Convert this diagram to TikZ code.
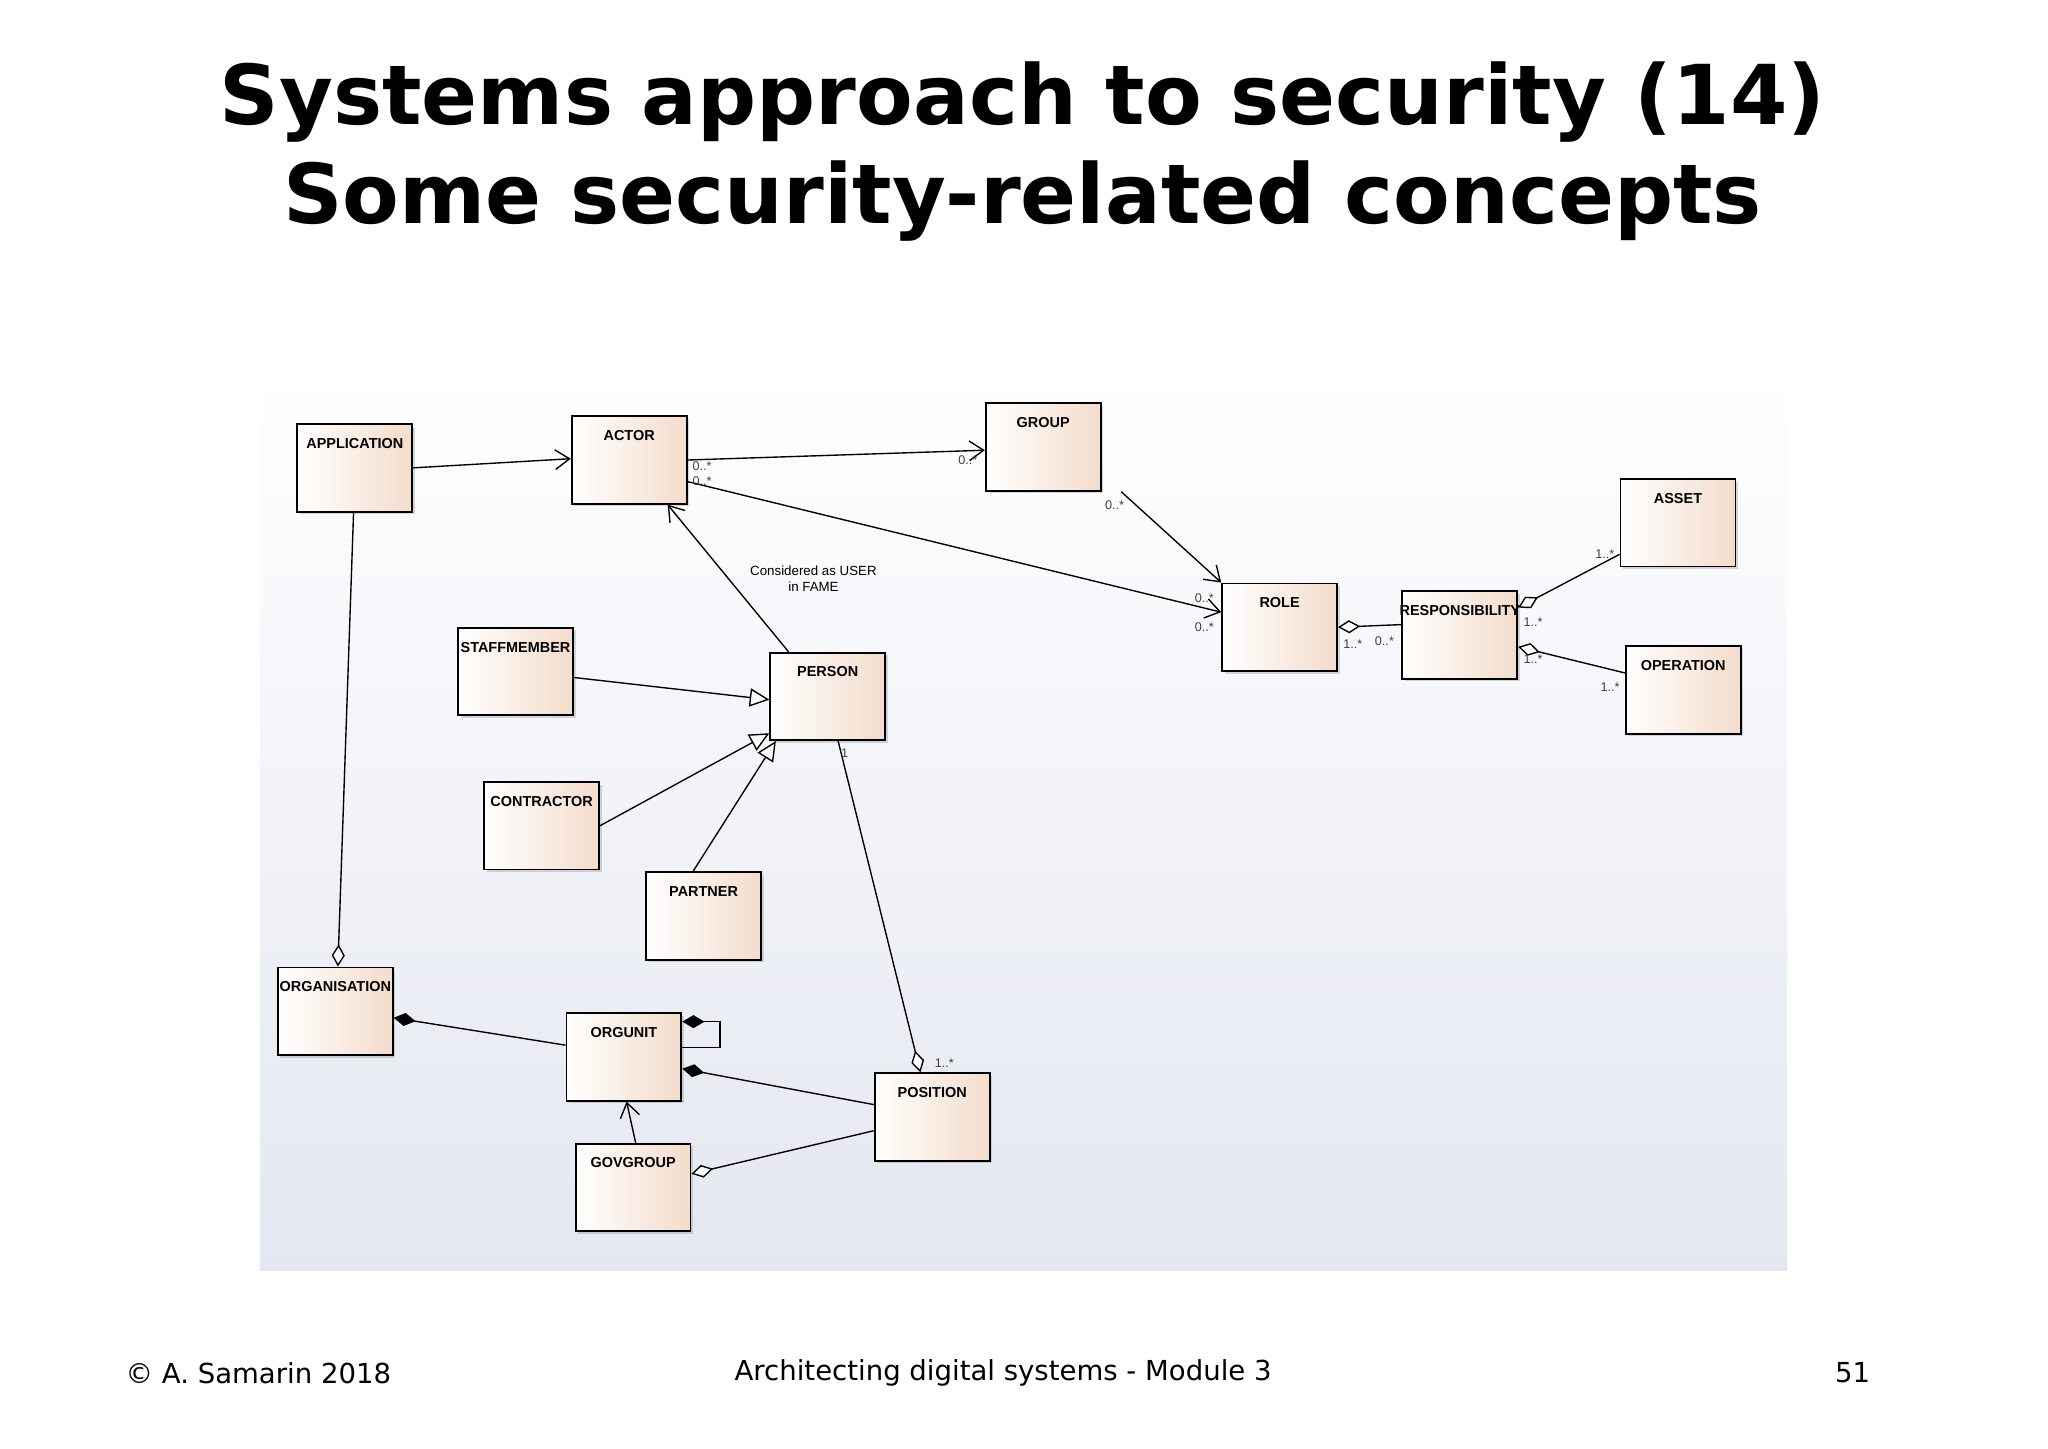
\documentclass[tikz,border=0pt]{standalone}
\usepackage{fontspec}
\setmainfont{DejaVu Sans}
\newfontfamily\umlfont{Liberation Sans}
\usetikzlibrary{calc,positioning,arrows.meta,shadows}
\newcommand{\boxwidth}{1.76cm}
\newcommand{\boxheight}{1.34cm}
\definecolor{peach}{HTML}{F3DCCB}
\definecolor{panelbot}{HTML}{E4E7F1}

\begin{document}
\begin{tikzpicture}[x=0.02cm,y=-0.02cm]

%% styles
\tikzset{
  cls/.style={draw,thick,rectangle,minimum width=\boxwidth,minimum height=\boxheight,anchor=north west,
    left color=white,right color=peach,drop shadow={shadow xshift=0.04cm,shadow yshift=-0.04cm,opacity=0.3},inner sep=0pt},
  clsname/.style={font=\umlfont\bfseries\fontsize{6.3}{7}\selectfont},
  mult/.style={font=\umlfont\fontsize{5.5}{6}\selectfont,text=black!75,inner sep=1pt},
  assoc/.style={semithick,-{Straight Barb[length=0.22cm,width=0.3cm]}},
  gen/.style={semithick,-{Triangle[open,length=0.3cm,width=0.28cm,fill=white]}},
  aggr/.style={semithick,-{Diamond[open,length=0.34cm,width=0.2cm,fill=white]}},
  comp/.style={semithick,-{Diamond[length=0.34cm,width=0.2cm]}}
}

%% page and panel
\useasboundingbox (0,0) rectangle (1568,1109);
\fill[white] (0,0) rectangle (1568,1109);
\shade[top color=white,bottom color=panelbot] (199,282) rectangle (1368,973);

%% title and footer
\node (title) at (783,116) [align=center,font=\bfseries\fontsize{36}{43}\selectfont] {Systems approach to security (14)\\Some security-related concepts};
\node (copy) at (90,1051) [anchor=west,font=\fontsize{12}{14}\selectfont] {\textcopyright{} A. Samarin 2018};
\node (course) at (768,1051) [font=\fontsize{12}{14}\selectfont] {Architecting digital systems - Module 3};
\node (page) at (1438,1051) [anchor=east,font=\fontsize{12}{14}\selectfont] {51};

%% classes
\node (app)   [cls] at (227,324)  {}; \node[clsname,below=3pt] at (app.north)   {APPLICATION};
\node (actor) [cls] at (437,318)  {}; \node[clsname,below=3pt] at (actor.north) {ACTOR};
\node (group) [cls] at (754,308)  {}; \node[clsname,below=3pt] at (group.north) {GROUP};
\node (asset) [cls] at (1240,366) {}; \node[clsname,below=3pt] at (asset.north) {ASSET};
\node (role)  [cls] at (935,446)  {}; \node[clsname,below=3pt] at (role.north)  {ROLE};
\node (resp)  [cls] at (1073,452) {}; \node[clsname,below=3pt] at (resp.north)  {RESPONSIBILITY};
\node (oper)  [cls] at (1244,494) {}; \node[clsname,below=3pt] at (oper.north)  {OPERATION};
\node (staff) [cls] at (350,480)  {}; \node[clsname,below=3pt] at (staff.north) {STAFFMEMBER};
\node (person)[cls] at (589,499)  {}; \node[clsname,below=3pt] at (person.north){PERSON};
\node (contr) [cls] at (370,598)  {}; \node[clsname,below=3pt] at (contr.north) {CONTRACTOR};
\node (partner)[cls] at (494,667) {}; \node[clsname,below=3pt] at (partner.north){PARTNER};
\node (org)   [cls] at (212,740)  {}; \node[clsname,below=3pt] at (org.north)   {ORGANISATION};
\node (orgunit)[cls] at (433,775) {}; \node[clsname,below=3pt] at (orgunit.north){ORGUNIT};
\node (posn)  [cls] at (669,821)  {}; \node[clsname,below=3pt] at (posn.north)  {POSITION};
\node (gov)   [cls] at (440,875)  {}; \node[clsname,below=3pt] at (gov.north)   {GOVGROUP};

%% associations
\draw[assoc] (app.east) -- ([yshift=0.02cm]actor.west);
\draw[assoc] (actor.east) -- ([yshift=-0.05cm]group.west) node[mult,pos=1,below left=1pt and 2pt] {0..*};
\node[mult,anchor=south west] at ([yshift=-0.2cm,xshift=1pt]actor.east) {0..*};
\draw[assoc] ([yshift=-0.33cm]actor.east) -- ([yshift=0.23cm]role.west);
\node[mult,anchor=north west] at ([yshift=-0.22cm,xshift=1pt]actor.east) {0..*};
\node[mult,anchor=east] at ([yshift=0.45cm,xshift=-2pt]role.west) {0..*};
\node[mult,anchor=east] at ([yshift=0.0cm,xshift=-2pt]role.west) {0..*};
\draw[assoc] ([xshift=0.3cm]group.south east) -- (role.north west);
\node[mult,anchor=north] at ([xshift=0.2cm,yshift=-0.1cm]group.south east) {0..*};
\draw[assoc] ([xshift=-0.6cm]person.north) -- ([xshift=0.59cm]actor.south)
  node[midway,right=6pt,align=center,font=\umlfont\fontsize{5.8}{7}\selectfont] {Considered as USER\\in FAME};
\draw[assoc] ([xshift=0.04cm]gov.north) -- ([xshift=0.04cm]orgunit.south);

%% generalisations
\draw[gen] ([yshift=-0.09cm]staff.east) -- ([yshift=-0.05cm]person.west);
\draw[gen] (contr.east) -- ([yshift=0.12cm]person.south west);
\draw[gen] ([xshift=-0.16cm]partner.north) -- ([xshift=0.1cm]person.south west);

%% aggregations
\draw[aggr] ([xshift=0.16cm]person.south) -- ([xshift=-0.18cm]posn.north)
  node[mult,pos=0,below right=2pt and 0pt] {1} node[mult,pos=1,above right=1pt and 5pt] {1..*};
\draw[aggr] ([xshift=-0.02cm]app.south) -- ([xshift=0.04cm]org.north);
\draw[aggr] ([yshift=0.16cm]resp.west) -- (role.east)
  node[mult,pos=1,below right=4pt and 1pt] {1..*} node[mult,pos=0,below left=4pt and 2pt] {0..*};
\draw[aggr] ([yshift=0.2cm]asset.south west) -- ([yshift=0.42cm]resp.east)
  node[mult,pos=0,left=1pt] {1..*} node[mult,pos=1,below right=3pt and 1pt] {1..*};
\draw[aggr] ([yshift=0.26cm]oper.west) -- ([yshift=-0.18cm]resp.east)
  node[mult,pos=0,below left=3pt and 1pt] {1..*} node[mult,pos=1,below right=2pt and 1pt] {1..*};
\draw[aggr] ([yshift=-0.21cm]posn.west) -- ([yshift=0.21cm]gov.east);

%% compositions
\draw[comp] ([yshift=0.18cm]orgunit.west) -- ([yshift=-0.1cm]org.east);
\draw[comp] ([yshift=0.19cm]posn.west) -- ([yshift=-0.18cm]orgunit.east);
\draw[comp] ([yshift=0.14cm]orgunit.east) -- ++(0.58cm,0) -- ++(0,0.4cm) -- ([yshift=0.54cm]orgunit.east);

\end{tikzpicture}
\end{document}
